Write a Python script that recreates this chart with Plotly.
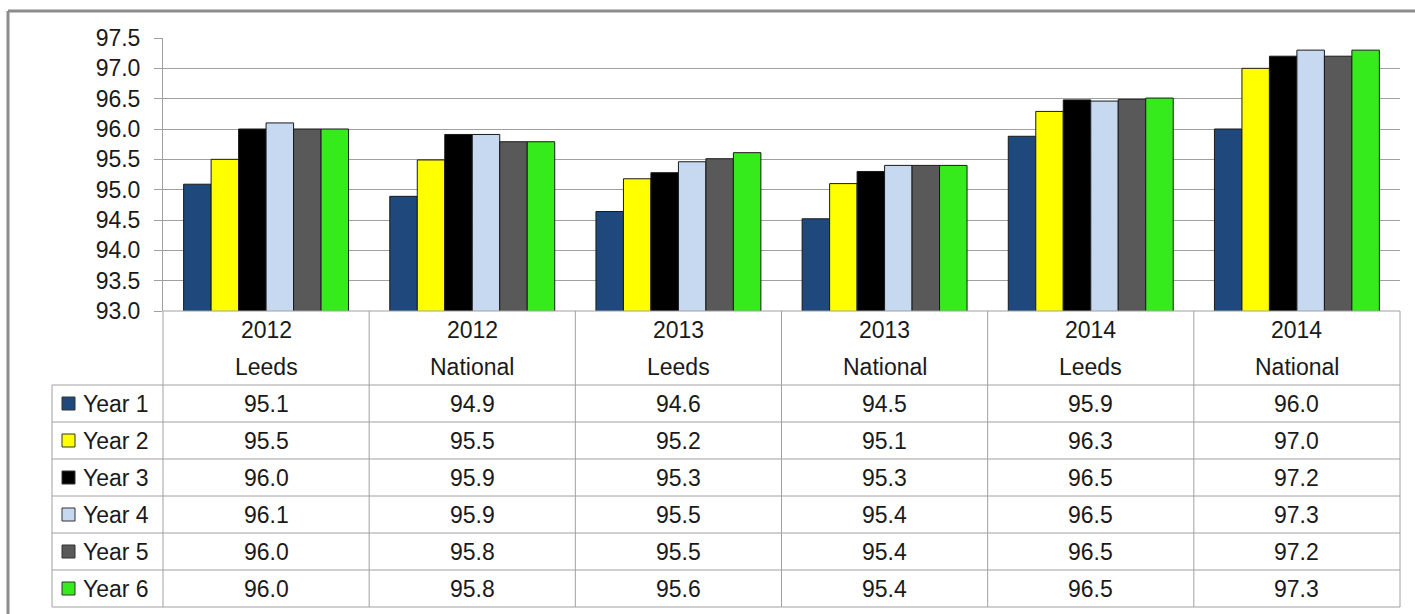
import plotly.graph_objects as go

years = ["2012", "2012", "2013", "2013", "2014", "2014"]
regions = ["Leeds", "National", "Leeds", "National", "Leeds", "National"]
series_names = ["Year 1", "Year 2", "Year 3", "Year 4", "Year 5", "Year 6"]
colors = ["#1F497D", "#FFFF00", "#000000", "#C6D9F1", "#595959", "#36EB1C"]

year1 = [95.09, 94.89, 94.64, 94.52, 95.88, 96.00]
year2 = [95.50, 95.49, 95.18, 95.10, 96.29, 97.00]
year3 = [96.00, 95.91, 95.28, 95.30, 96.48, 97.20]
year4 = [96.10, 95.91, 95.46, 95.40, 96.46, 97.30]
year5 = [96.00, 95.79, 95.51, 95.40, 96.49, 97.20]
year6 = [96.00, 95.79, 95.61, 95.40, 96.51, 97.30]
series_values = [year1, year2, year3, year4, year5, year6]

y_min, y_max, y_step = 93.0, 97.5, 0.5

W, H = 1415, 614
L, R = 163, 1400      # plot area left/right (px)
T, B = 38, 311        # plot area top/bottom (px)
FONT = "Liberation Sans, Arial, sans-serif"
FS = 23
GRID = "#A0A0A0"
TXT = "#1A1A1A"

categories = [f"{y} {r}" for y, r in zip(years, regions)]

fig = go.Figure()
for name, vals, col in zip(series_names, series_values, colors):
    fig.add_trace(go.Bar(
        x=categories, y=vals, name=name,
        marker=dict(color=col, line=dict(color="#1A1A1A", width=1)),
        showlegend=False, hoverinfo="x+y+name",
    ))

def px2x(px):
    return (px - L) / (R - L)

def py2y(py):
    return (B - py) / (B - T)

shapes = []
annotations = []
ncol = len(categories)
colw = (R - L) / ncol
row_h = 37
header_bottom = 385
table_bottom = header_bottom + row_h * len(series_names)

def line(x0, y0, x1, y1, color=GRID, width=1):
    shapes.append(dict(type="line", xref="paper", yref="paper",
                       x0=px2x(x0), y0=py2y(y0), x1=px2x(x1), y1=py2y(y1),
                       line=dict(color=color, width=width), layer="above"))

def text(x, y, s, xanchor="center"):
    annotations.append(dict(x=px2x(x), y=py2y(y), xref="paper", yref="paper",
                            text=s, showarrow=False, xanchor=xanchor, yanchor="middle",
                            font=dict(family=FONT, size=FS, color=TXT)))

# outer frame
line(8, 11, W + 5, 11, color="#8C8C8C", width=3)
line(8, 11, 8, H + 5, color="#8C8C8C", width=3)

# table vertical lines
for i in range(ncol + 1):
    xv = L + i * colw
    line(xv, B, xv, table_bottom)
# table horizontal lines
line(L, B, R, B)
line(52, header_bottom, R, header_bottom)
for j in range(1, len(series_names) + 1):
    yh = header_bottom + j * row_h
    line(52, yh, R, yh)
line(52, header_bottom, 52, table_bottom)

# header texts
for i in range(ncol):
    cx = L + (i + 0.5) * colw
    text(cx, 330, years[i])
    text(cx, 367, regions[i])

# table rows
for j, (name, vals, col) in enumerate(zip(series_names, series_values, colors)):
    cy = header_bottom + (j + 0.5) * row_h
    shapes.append(dict(type="rect", xref="paper", yref="paper",
                       x0=px2x(62), x1=px2x(75), y0=py2y(cy - 6.5), y1=py2y(cy + 6.5),
                       fillcolor=col, line=dict(color="#333333", width=1), layer="above"))
    text(81, cy, name, xanchor="left")
    for i, v in enumerate(vals):
        text(L + (i + 0.5) * colw, cy, f"{v:.1f}")

tickvals = [y_min + k * y_step for k in range(int(round((y_max - y_min) / y_step)) + 1)]

fig.update_layout(
    width=W, height=H,
    margin=dict(l=L, r=W - R, t=T, b=H - B, pad=0),
    paper_bgcolor="white", plot_bgcolor="white",
    barmode="group", bargap=0.2, bargroupgap=0,
    shapes=shapes, annotations=annotations,
    font=dict(family=FONT, size=FS, color=TXT),
    xaxis=dict(showticklabels=False, showgrid=False, zeroline=False,
               showline=False, ticks=""),
    yaxis=dict(range=[y_min, y_max], tickvals=tickvals,
               ticktext=[f"{t:.1f}" for t in tickvals],
               showgrid=True, gridcolor=GRID, gridwidth=1,
               zeroline=False, showline=True, linecolor=GRID, linewidth=1,
               ticks="outside", ticklen=8, tickcolor=GRID,
               ticklabelstandoff=9,
               tickfont=dict(family=FONT, size=FS, color=TXT)),
)

fig.write_html("out.html",
               config={"displayModeBar": False},
               post_script="document.body.style.margin='0px';document.body.style.overflow='hidden';")
